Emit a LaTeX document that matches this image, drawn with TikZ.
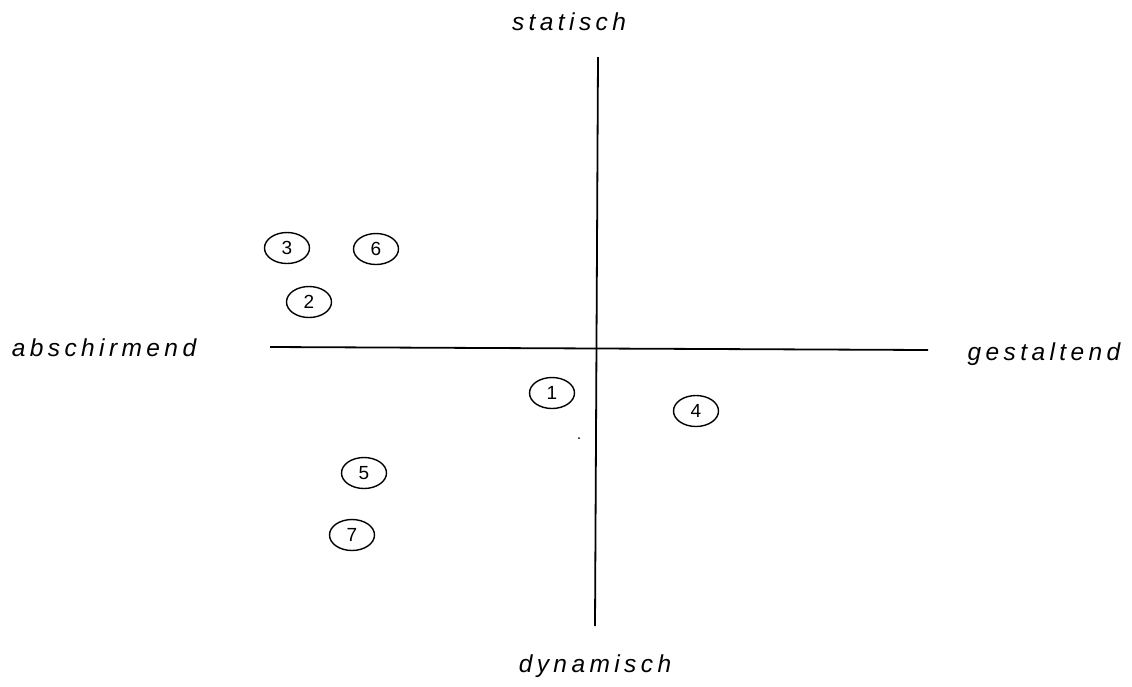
\documentclass[tikz,border=0pt]{standalone}
\usepackage{fontspec}
\setmainfont{Liberation Sans}
\newfontfamily\axisfont[LetterSpace=18]{Liberation Sans}
\usetikzlibrary{shapes.geometric}
\begin{document}
\begin{tikzpicture}[x=1pt,y=-1pt,
  axisline/.style={line width=1.8pt,black},
  axislabel/.style={font=\axisfont\itshape\fontsize{24.5}{28}\selectfont,inner sep=0pt},
  item/.style={ellipse,draw,line width=1.4pt,minimum width=45pt,minimum height=31pt,inner sep=0pt,font=\fontsize{19}{22}\selectfont}]
\useasboundingbox (0,0) rectangle (1132,686);
\coordinate (top) at (598,57);
\coordinate (bottom) at (595,626);
\coordinate (left) at (270,347);
\coordinate (right) at (928,350);
\draw[axisline] (top) -- (bottom);
\draw[axisline] (left) -- (right);
\node[axislabel] (stat) at (569,22) {statisch};
\node[axislabel] (dyn) at (595,666) {dynamisch};
\node[axislabel] (absch) at (104,348) {abschirmend};
\node[axislabel] (gest) at (1044,354) {gestaltend};
\node[item] (n3) at (287,248) {3};
\node[item] (n6) at (376,249) {6};
\node[item] (n2) at (309,302) {2};
\node[item] (n1) at (552,393) {1};
\node[item] (n4) at (696,411) {4};
\node[item] (n5) at (364,473) {5};
\node[item] (n7) at (352,535) {7};
\fill (579,438) circle (1pt);
\end{tikzpicture}
\end{document}
